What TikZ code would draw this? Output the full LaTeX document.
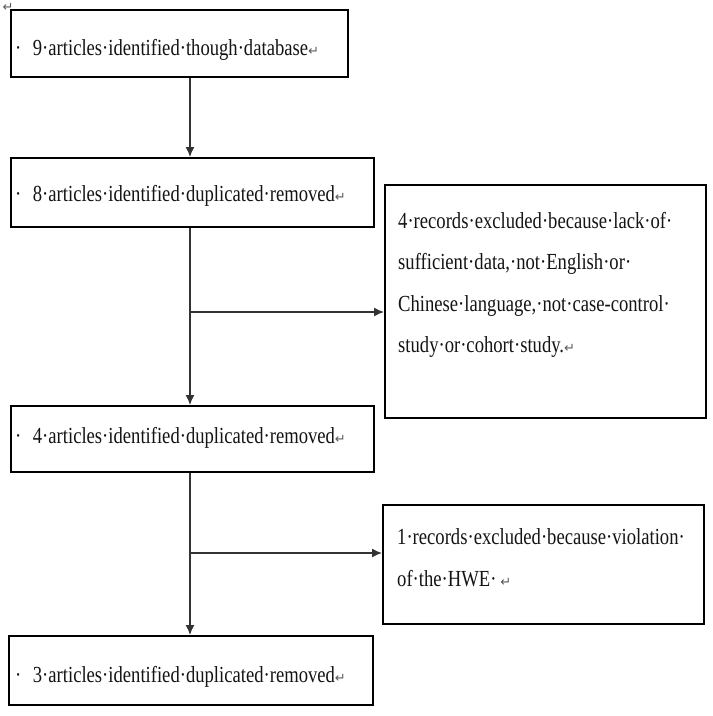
\documentclass[tikz,border=0pt]{standalone}
\usepackage{fontspec}
\setmainfont{Liberation Serif}[FakeStretch=0.81]
\newfontfamily\symfont{DejaVu Sans}
\usetikzlibrary{arrows.meta}
\newcommand\pmk{{\symfont\fontsize{13}{13}\selectfont\color{black!65}↵}}
\begin{document}
\begin{tikzpicture}[x=1pt,y=-1pt,
  box/.style={draw=black, line width=1.6pt, rectangle, inner sep=0pt},
  txt/.style={font=\fontsize{23}{41.5}\selectfont, inner sep=0pt, align=left, text=black!92},
  conn/.style={draw=black!80, line width=1.4pt},
  arr/.style={conn, -{Latex[length=10pt,width=9pt]}}]
\useasboundingbox (0,0) rectangle (713,716);
% boxes
\node[box, anchor=north west, minimum width=337pt, minimum height=67pt] (b1) at (10,9) {};
\node[box, anchor=north west, minimum width=363pt, minimum height=69pt] (b2) at (10,157) {};
\node[box, anchor=north west, minimum width=321pt, minimum height=233pt] (r1) at (384,184) {};
\node[box, anchor=north west, minimum width=363pt, minimum height=66pt] (b3) at (10,405) {};
\node[box, anchor=north west, minimum width=321pt, minimum height=119pt] (r2) at (382,504) {};
\node[box, anchor=north west, minimum width=364pt, minimum height=69pt] (b4) at (8,635) {};
% texts
\node[inner sep=0pt] (pm0) at (8,7) {\pmk};
\node[txt, anchor=base west] (t1) at (15,55) {·\enspace 9·articles·identified·though·database\pmk};
\node[txt, anchor=base west] (t2) at (15,201) {·\enspace 8·articles·identified·duplicated·removed\pmk};
\node[txt, anchor=base west] (t3) at (15,443) {·\enspace 4·articles·identified·duplicated·removed\pmk};
\node[txt, anchor=base west] (t4) at (15,682) {·\enspace 3·articles·identified·duplicated·removed\pmk};
\node[txt, anchor=base west] (tr1) at (398,352.5) {4·records·excluded·because·lack·of·\\sufficient·data,·not·English·or·\\Chinese·language,·not·case-control·\\study·or·cohort·study.\pmk};
\node[txt, anchor=base west] (tr2) at (397,586) {1·records·excluded·because·violation·\\of·the·HWE·\,\pmk};
% connectors
\coordinate (cx) at (190,0);
\coordinate (j1) at (190,312);
\coordinate (j2) at (190,553);
\draw[arr] (b1.south -| cx) -- (b2.north -| cx);
\draw[arr] (b2.south -| cx) -- (b3.north -| cx);
\draw[arr] (j1) -- (j1 -| r1.west);
\draw[arr] (b3.south -| cx) -- (b4.north -| cx);
\draw[arr] (j2) -- (j2 -| r2.west);
\end{tikzpicture}
\end{document}
